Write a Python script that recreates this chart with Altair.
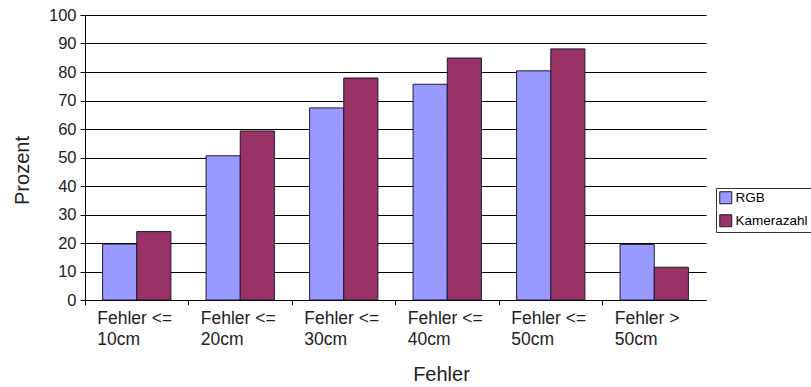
import altair as alt
import pandas as pd

# Error classes and the share of cases (in percent) for both methods
categories = ["Fehler <=|10cm", "Fehler <=|20cm", "Fehler <=|30cm",
              "Fehler <=|40cm", "Fehler <=|50cm", "Fehler >|50cm"]
rgb = [19.6, 50.6, 67.4, 75.7, 80.4, 19.5]
kamerazahl = [24.0, 59.3, 77.9, 84.9, 88.1, 11.5]
series = ["RGB", "Kamerazahl"]
colors = ["#9999FF", "#993366"]

rows = []
for i, cat in enumerate(categories):
    rows.append({"Fehler": cat, "Methode": "RGB", "Prozent": rgb[i]})
    rows.append({"Fehler": cat, "Methode": "Kamerazahl", "Prozent": kamerazahl[i]})
df = pd.DataFrame(rows)

font = "Liberation Sans"
text_color = "#222222"

chart = alt.Chart(df).mark_bar(stroke="#1a1a3a", strokeWidth=1).encode(
    x=alt.X(
        "Fehler:N",
        sort=categories,
        scale=alt.Scale(paddingInner=0.34, paddingOuter=0.17),
        axis=alt.Axis(
            title="Fehler",
            labelAngle=0,
            labelAlign="left",
            labelBaseline="top",
            labelExpr="split(datum.label, '|')",
            labelLineHeight=21,
            labelFontSize=17.5,
            labelPadding=4,
            labelOffset=-22.4,
            bandPosition=0,
            tickOffset=-17.6,
            tickSize=5,
            tickColor="black",
            domainColor="black",
            titleFontSize=20,
            titleFontWeight="normal",
            titleX=356,
            titleY=80,
            titleAlign="center",
            titleBaseline="alphabetic",
        ),
    ),
    xOffset=alt.XOffset("Methode:N", sort=series,
                        scale=alt.Scale(paddingInner=0, paddingOuter=0)),
    y=alt.Y(
        "Prozent:Q",
        scale=alt.Scale(domain=[0, 100], nice=False),
        axis=alt.Axis(
            title="Prozent",
            values=list(range(0, 101, 10)),
            grid=True,
            gridColor="black",
            gridOpacity=1,
            gridWidth=1,
            tickSize=5,
            tickColor="black",
            domainColor="black",
            labelFontSize=16.5,
            labelPadding=4,
            titleFontSize=20,
            titleFontWeight="normal",
            titleX=-63,
            titleY=155,
            titleAlign="center",
            titleBaseline="middle",
        ),
    ),
    color=alt.Color(
        "Methode:N",
        sort=series,
        scale=alt.Scale(domain=series, range=colors),
        legend=alt.Legend(
            title=None,
            orient="none",
            legendX=631,
            legendY=173,
            symbolType="square",
            symbolSize=144,
            symbolStrokeColor="#1a1a3a",
            symbolStrokeWidth=1,
            symbolOpacity=1,
            labelFontSize=13.5,
            labelOffset=3,
            rowPadding=6,
            padding=3,
            strokeColor="#333333",
            fillColor="white",
        ),
    ),
).properties(
    width=621,
    height=285,
    autosize=alt.AutoSizeParams(type="none"),
    padding={"left": 85, "top": 15, "right": 105, "bottom": 87},
).configure(
    font=font,
).configure_axis(
    labelColor=text_color,
    titleColor=text_color,
    labelFont=font,
    titleFont=font,
).configure_legend(
    labelColor="black",
    labelFont=font,
).configure_view(
    stroke=None,
)

chart.save("out.html", embed_options={"renderer": "svg", "actions": False})
